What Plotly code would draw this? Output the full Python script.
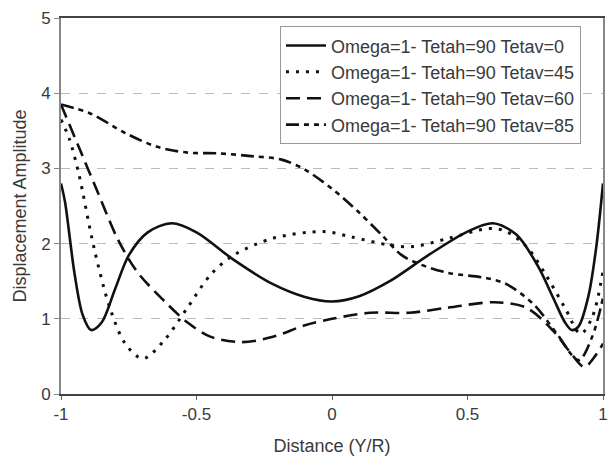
import plotly.graph_objects as go

# Displacement amplitude across the section for four Tetav angles
names = [
    "Omega=1- Tetah=90 Tetav=0",
    "Omega=1- Tetah=90 Tetav=45",
    "Omega=1- Tetah=90 Tetav=60",
    "Omega=1- Tetah=90 Tetav=85",
]

x_tv0 = [-1.0, -0.985, -0.95, -0.92, -0.889, -0.85, -0.8, -0.749, -0.68, -0.591, -0.5, -0.361,
         -0.218, -0.1, 0.0, 0.1, 0.213, 0.357, 0.5, 0.594, 0.68, 0.76, 0.816, 0.86, 0.885,
         0.91, 0.946, 0.975, 1.0]
y_tv0 = [2.8, 2.55, 1.6, 1.05, 0.85, 0.95, 1.4, 1.85, 2.15, 2.27, 2.15, 1.78,
         1.46, 1.29, 1.23, 1.3, 1.5, 1.85, 2.16, 2.27, 2.12, 1.7, 1.28, 0.95, 0.85,
         0.9, 1.3, 1.95, 2.8]

x_tv45 = [-1.0, -0.97, -0.935, -0.878, -0.82, -0.763, -0.698, -0.62, -0.533, -0.447, -0.361,
          -0.218, -0.031, 0.07, 0.213, 0.3, 0.43, 0.58, 0.644, 0.72, 0.788, 0.859, 0.917,
          0.96, 1.0]
y_tv45 = [3.65, 3.4, 2.94, 1.94, 1.15, 0.67, 0.47, 0.71, 1.15, 1.59, 1.85,
          2.07, 2.16, 2.09, 1.98, 1.96, 2.07, 2.2, 2.16, 1.95, 1.59, 1.15, 0.8,
          1.02, 1.63]

x_tv60 = [-1.0, -0.935, -0.864, -0.792, -0.72, -0.62, -0.533, -0.447, -0.332, -0.218,
          -0.103, 0.0, 0.141, 0.285, 0.43, 0.6, 0.716, 0.816, 0.88, 0.931, 0.974, 1.0]
y_tv60 = [3.85, 3.29, 2.68, 2.07, 1.63, 1.24, 0.95, 0.76, 0.69, 0.76,
          0.91, 1.0, 1.08, 1.08, 1.15, 1.22, 1.15, 0.84, 0.55, 0.36, 0.52, 0.67]

x_tv85 = [-1.0, -0.892, -0.763, -0.648, -0.533, -0.418, -0.289, -0.189, -0.103, 0.0, 0.098,
          0.185, 0.256, 0.328, 0.43, 0.572, 0.644, 0.745, 0.83, 0.91, 0.96, 1.0]
y_tv85 = [3.85, 3.73, 3.47, 3.29, 3.21, 3.2, 3.16, 3.12, 2.99, 2.73, 2.42,
          2.11, 1.85, 1.72, 1.61, 1.54, 1.46, 1.19, 0.8, 0.45, 0.76, 1.28]

x_ticks = [-1, -0.5, 0, 0.5, 1]
x_tick_text = ["-1", "-0.5", "0", "0.5", "1"]
y_ticks = [0, 1, 2, 3, 4, 5]

series = [
    (x_tv0, y_tv0, "solid", 2.6),
    (x_tv45, y_tv45, "3px,7px", 3.0),
    (x_tv60, y_tv60, "14px,7px", 2.6),
    (x_tv85, y_tv85, "13px,5px,5px,5px,5px,5px", 2.6),
]

FONT = "Liberation Sans, Arial, sans-serif"

fig = go.Figure()
for i, (xs, ys, dash, w) in enumerate(series):
    fig.add_trace(go.Scatter(
        x=xs, y=ys, mode="lines", name=names[i],
        line=dict(color="#111111", width=w, dash=dash, shape="spline", smoothing=0.9),
    ))

fig.update_layout(
    width=616, height=461,
    margin=dict(l=61, r=8, t=18, b=64),
    paper_bgcolor="white", plot_bgcolor="white",
    font=dict(family=FONT, size=17, color="#3a3a3a"),
    showlegend=True,
    legend=dict(
        x=0.404, y=0.978, xanchor="left", yanchor="top",
        bgcolor="white", bordercolor="#999999", borderwidth=1,
        font=dict(family=FONT, size=18, color="#3a3a3a"),
        itemwidth=40,
    ),
    xaxis=dict(
        range=[-1, 1], tickvals=x_ticks, ticktext=x_tick_text,
        showgrid=False, zeroline=False,
        showline=True, linecolor="#444444", linewidth=2, mirror=True,
        ticks="outside", ticklen=4, tickcolor="#666666",
        title=dict(text="Distance (Y/R)", standoff=16, font=dict(size=18)),
    ),
    yaxis=dict(
        range=[0, 5], tickvals=y_ticks,
        showgrid=True, gridcolor="#bbbbbb", griddash="dash", gridwidth=1,
        zeroline=False,
        showline=True, linecolor="#888888", linewidth=2, mirror=True,
        ticks="outside", ticklen=5, tickcolor="#888888",
        title=dict(text="Displacement Amplitude", standoff=10, font=dict(size=18)),
    ),
)

fig.write_html("out.html")
